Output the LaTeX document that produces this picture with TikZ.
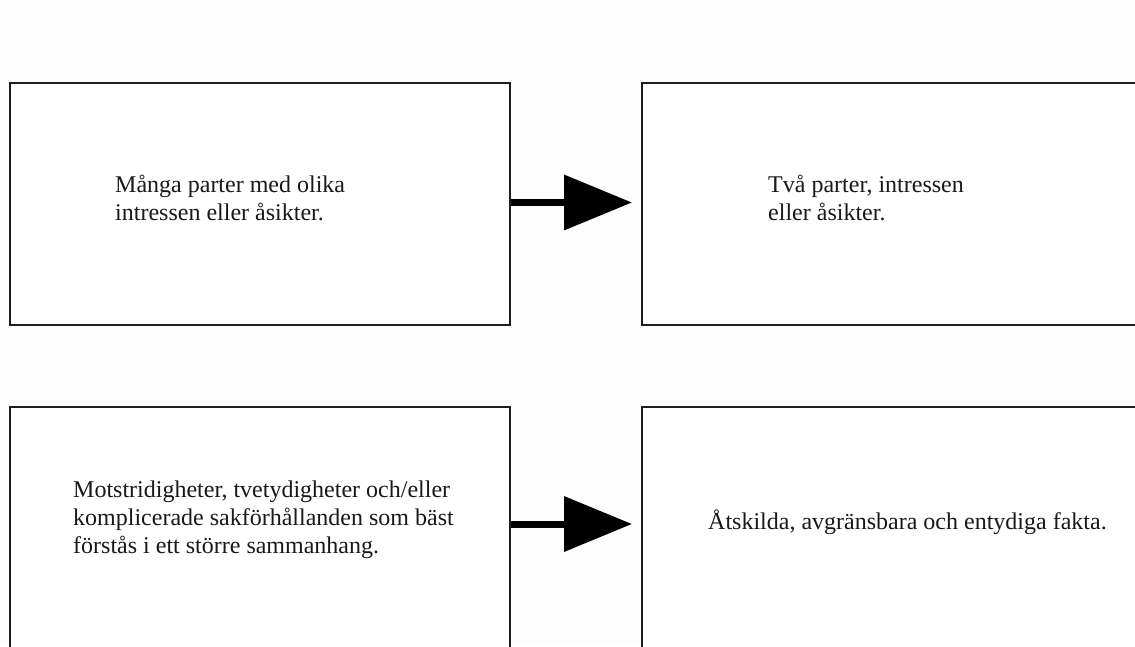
\documentclass[tikz,border=0pt]{standalone}
\usepackage{fontspec}
\setmainfont{Liberation Serif}
\usetikzlibrary{arrows.meta}
\definecolor{bgcol}{HTML}{FDFDFD}
\definecolor{edgecol}{HTML}{1E1E1E}
\tikzset{
  box/.style={draw=edgecol, line width=2pt, fill=white, inner sep=0pt, minimum height=#1},
  box/.default=242pt,
  txt/.style={anchor=base west, inner sep=0pt, align=left, text=black!90,
              font=\fontsize{24}{28}\selectfont},
  bigarrow/.style={line width=7pt, black, shorten >=9pt,
                   -{Triangle[length=68pt,width=54pt]}}
}
\begin{document}
\begin{tikzpicture}[x=1pt,y=-1pt]
\fill[bgcol] (0,0) rectangle (1135,646);
\useasboundingbox (0,0) rectangle (1135,646);
\node[box, minimum width=500pt] (b1) at (260,204) {};
\node[box, minimum width=503pt] (b2) at (893.5,204) {};
\node[box=249pt, minimum width=500pt] (b3) at (260,531.5) {};
\node[box=249pt, minimum width=503pt] (b4) at (893.5,531.5) {};
\draw[bigarrow] ([yshift=1.5pt]b1.east) -- ([yshift=1.5pt]b2.west);
\draw[bigarrow] ([yshift=7.5pt]b3.east) -- ([yshift=7.5pt]b4.west);
\node[txt] (t1) at (115,220) {Många parter med olika\\intressen eller åsikter.};
\node[txt] (t2) at (768,220) {Två parter, intressen\\eller åsikter.};
\node[txt] (t3) at (73,553) {Motstridigheter, tvetydigheter och/eller\\komplicerade sakförhållanden som bäst\\förstås i ett större sammanhang.};
\node[txt] (t4) at (708,529) {Åtskilda, avgränsbara och entydiga fakta.};
\end{tikzpicture}
\end{document}
